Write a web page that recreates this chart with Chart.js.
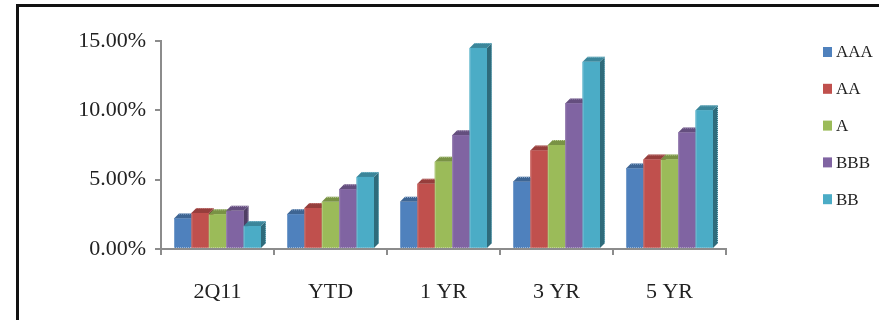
<!DOCTYPE html>
<html>
<head>
<meta charset="utf-8">
<script src="https://cdn.jsdelivr.net/npm/chart.js@4/dist/chart.umd.min.js"></script>
<style>
  html, body { margin: 0; padding: 0; background: #fff; }
  #wrap { width: 879px; height: 320px; }
</style>
</head>
<body>
<div id="wrap"><canvas id="myChart" width="879" height="320"></canvas></div>
<script>
// categories and series
var categories = ['2Q11', 'YTD', '1 YR', '3 YR', '5 YR'];
var seriesNames = ['AAA', 'AA', 'A', 'BBB', 'BB'];
var seriesColors = ['#4F81BD', '#C0504D', '#9BBB59', '#8064A2', '#4BACC6'];

var aaa = [2.2, 2.5, 3.4, 4.85, 5.8];
var aa = [2.6, 2.95, 4.7, 7.1, 6.45];
var a = [2.5, 3.4, 6.3, 7.5, 6.45];
var bbb = [2.75, 4.3, 8.2, 10.5, 8.4];
var bb = [1.65, 5.2, 14.5, 13.5, 10.0];

var yTicks = [0, 5, 10, 15];

var values = [aaa, aa, a, bbb, bb];

function shade(hex, f) {
    var n = parseInt(hex.slice(1), 16);
    var r = ((n >> 16) & 255), g = ((n >> 8) & 255), b = (n & 255);
    if (f <= 1) {
        r = r * f; g = g * f; b = b * f;
    } else {
        var t = f - 1;
        r = r + (255 - r) * t; g = g + (255 - g) * t; b = b + (255 - b) * t;
    }
    return 'rgb(' + Math.round(r) + ',' + Math.round(g) + ',' + Math.round(b) + ')';
}

// frame round the chart (cut off on the right and bottom like the picture)
var framePlugin = {
    id: 'frame',
    beforeDraw: function (chart) {
        var c = chart.ctx;
        c.save();
        c.fillStyle = '#111';
        c.fillRect(16, 4, 3, 320);
        c.fillRect(16, 4, 870, 3);
        c.restore();
    }
};

// fake 3D: redraw every bar left to right with its top and side faces
var depthPlugin = {
    id: 'depth',
    afterDatasetsDraw: function (chart) {
        var c = chart.ctx;
        var d = 5;
        var n = chart.data.datasets.length;
        c.save();
        for (var k = 0; k < chart.data.labels.length; k++) {
            for (var i = 0; i < n; i++) {
                var col = chart.data.datasets[i].backgroundColor;
                var bar = chart.getDatasetMeta(i).data[k];
                var p = bar.getProps(['x', 'y', 'base', 'width'], true);
                var l = p.x - p.width / 2, r = p.x + p.width / 2;
                // side
                c.fillStyle = shade(col, 0.62);
                c.beginPath();
                c.moveTo(r, p.y);
                c.lineTo(r + d, p.y - d);
                c.lineTo(r + d, p.base - d);
                c.lineTo(r, p.base);
                c.closePath();
                c.fill();
                // top
                c.fillStyle = shade(col, 0.78);
                c.beginPath();
                c.moveTo(l, p.y);
                c.lineTo(l + d, p.y - d);
                c.lineTo(r + d, p.y - d);
                c.lineTo(r, p.y);
                c.closePath();
                c.fill();
                // front
                c.fillStyle = col;
                c.fillRect(l, p.y, r - l, p.base - p.y);
                // speckled edge
                c.strokeStyle = shade(col, 1.45);
                c.lineWidth = 1;
                c.setLineDash([1, 1]);
                c.beginPath();
                c.moveTo(l + 0.5, p.base - 0.5);
                c.lineTo(l + 0.5, p.y + 0.5);
                c.moveTo(l + d, p.y - d + 0.5);
                c.lineTo(r + d - 0.5, p.y - d + 0.5);
                c.lineTo(r + d - 0.5, p.base - d);
                c.moveTo(l, p.base - 0.5);
                c.lineTo(r, p.base - 0.5);
                c.stroke();
                c.setLineDash([]);
            }
        }
        c.restore();
    }
};

// legend on the right, drawn by hand so it sits where the picture has it
var legendPlugin = {
    id: 'sideLegend',
    afterDraw: function (chart) {
        var c = chart.ctx;
        var x0 = chart.chartArea.right + 97;
        c.save();
        c.font = '17px "Liberation Serif", serif';
        c.textBaseline = 'middle';
        chart.data.datasets.forEach(function (ds, i) {
            var yc = 52 + i * 36.8;
            c.fillStyle = ds.backgroundColor;
            c.fillRect(x0, yc - 5, 9, 10);
            c.fillStyle = '#222';
            c.fillText(ds.label, x0 + 13, yc + 1);
        });
        c.restore();
    }
};

var ctx = document.getElementById('myChart').getContext('2d');
var chart = new Chart(ctx, {
    type: 'bar',
    data: {
        labels: categories,
        datasets: seriesNames.map(function (name, i) {
            return {
                label: name,
                data: values[i],
                backgroundColor: seriesColors[i],
                borderWidth: 0,
                categoryPercentage: 0.77,
                barPercentage: 1.0
            };
        })
    },
    options: {
        responsive: false,
        animation: false,
        events: [],
        layout: { padding: { top: 41, right: 153, bottom: 0, left: 0 } },
        plugins: {
            legend: { display: false },
            tooltip: { enabled: false }
        },
        scales: {
            x: {
                offset: true,
                grid: {
                    offset: true,
                    drawOnChartArea: false,
                    color: '#8c8c8c',
                    lineWidth: 2,
                    tickLength: 6
                },
                border: { color: '#8c8c8c', width: 2 },
                ticks: {
                    color: '#222',
                    padding: 24,
                    font: { family: '"Liberation Serif", serif', size: 22 }
                },
                afterFit: function (s) { s.height = 71; }
            },
            y: {
                min: 0,
                max: 15,
                afterBuildTicks: function (s) {
                    s.ticks = yTicks.map(function (v) { return { value: v }; });
                },
                grid: {
                    drawOnChartArea: false,
                    color: '#8c8c8c',
                    lineWidth: 2,
                    tickLength: 6
                },
                border: { color: '#8c8c8c', width: 2 },
                ticks: {
                    color: '#222',
                    padding: 9,
                    font: { family: '"Liberation Serif", serif', size: 22 },
                    callback: function (v) { return v.toFixed(2) + '%'; }
                },
                afterFit: function (s) { s.width = 161; }
            }
        }
    },
    plugins: [framePlugin, depthPlugin, legendPlugin]
});
</script>
</body>
</html>
